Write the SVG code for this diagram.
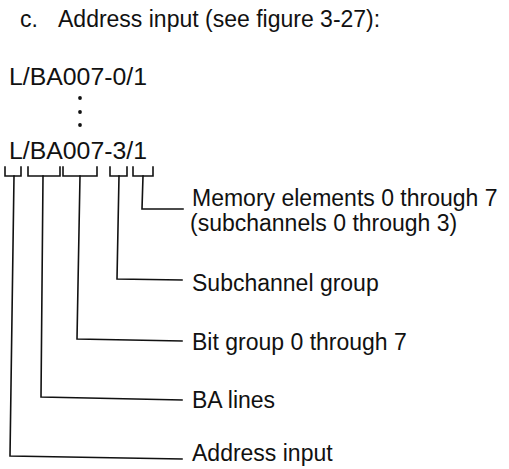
<svg xmlns="http://www.w3.org/2000/svg" width="509" height="469" viewBox="0 0 509 469">
<style>
text{font-family:"Liberation Sans",Arial,sans-serif;font-size:23px;fill:#111}
.ln{fill:none;stroke:#111;stroke-width:1.6;stroke-linecap:square;stroke-linejoin:miter}
</style>
<rect width="509" height="469" fill="#fff"/>
<g id="title">
<text x="20" y="27">c.</text>
<text x="58" y="27">Address input (see figure 3-27):</text>
</g>
<g id="code-first">
<text x="9" y="85" textLength="138" lengthAdjust="spacingAndGlyphs">L/BA007-0/1</text>
<circle cx="80" cy="98" r="1.9" fill="#111"/>
<circle cx="80" cy="112" r="1.9" fill="#111"/>
<circle cx="80" cy="125" r="1.9" fill="#111"/>
</g>
<g id="code-last">
<text x="9" y="159" textLength="138" lengthAdjust="spacingAndGlyphs">L/BA007-3/1</text>
</g>
<g id="label-memory">
<text x="192" y="206">Memory elements 0 through 7</text>
<text x="190" y="231">(subchannels 0 through 3)</text>
</g>
<g id="label-subchannel">
<text x="192" y="291">Subchannel group</text>
</g>
<g id="label-bit">
<text x="192" y="350">Bit group 0 through 7</text>
</g>
<g id="label-ba">
<text x="192" y="408">BA lines</text>
</g>
<g id="label-address">
<text x="192" y="461">Address input</text>
</g>
<g id="connectors">
<path class="ln" d="M5,167 V176 H21 V167"/>
<path class="ln" d="M28,167 V176 H60 V167"/>
<path class="ln" d="M63,167 V176 H97 V167"/>
<path class="ln" d="M110,167 V176 H127 V167"/>
<path class="ln" d="M133,167 V176 H153 V167"/>
<path class="ln" d="M14,176 L10,456 L182,459"/>
<path class="ln" d="M43,176 L41,397 L182,400"/>
<path class="ln" d="M80,176 L77,339 L182,341"/>
<path class="ln" d="M119,176 L117,279 L182,280"/>
<path class="ln" d="M143,176 L142,209 L183,209"/>
</g>
</svg>
